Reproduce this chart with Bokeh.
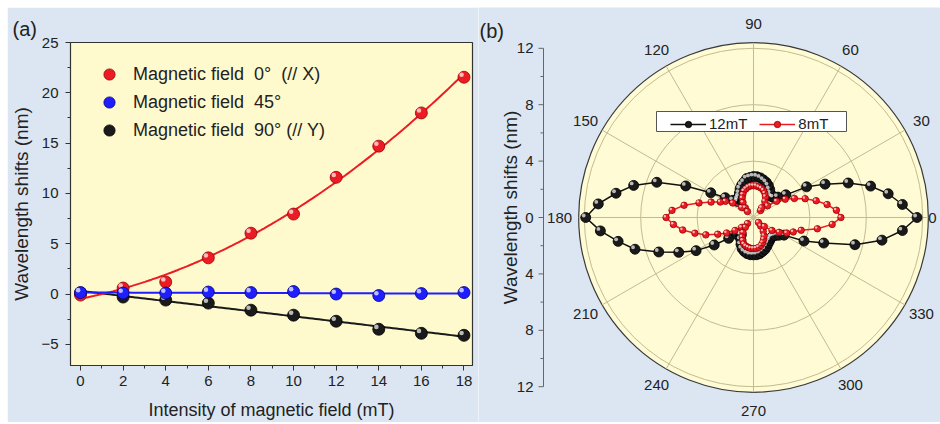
import numpy as np
from bokeh.plotting import figure
from bokeh.layouts import row
from bokeh.models import Range1d, FixedTicker, Legend, LegendItem
from bokeh.core.properties import value
from bokeh.embed import file_html
from bokeh.resources import INLINE

# ---------------- data: panel (a) ----------------
field_mT = [0, 2, 4, 6, 8, 10, 12, 14, 16, 18]
shift_0deg = [-0.1, 0.6, 1.2, 3.6, 6.05, 7.95, 11.6, 14.7, 18.0, 21.55]
shift_45deg = [0.15, 0.1, 0.1, 0.2, 0.15, 0.25, 0.0, -0.15, 0.05, 0.15]
shift_90deg = [0.1, -0.3, -0.6, -0.9, -1.6, -2.1, -2.7, -3.5, -3.9, -4.1]
x_ticks_a = [0, 2, 4, 6, 8, 10, 12, 14, 16, 18]
x_minor_a = [1, 3, 5, 7, 9, 11, 13, 15, 17]
y_ticks_a = [-5, 0, 5, 10, 15, 20, 25]
y_minor_a = [-7.5, -2.5, 2.5, 7.5, 12.5, 17.5, 22.5]
labels_a = ["Magnetic field\u00a0 0\u00b0\u00a0 (// X)",
            "Magnetic field\u00a0 45\u00b0",
            "Magnetic field\u00a0 90\u00b0 (// Y)"]

# ---------------- data: panel (b) polar ----------------
angle_deg = list(range(0, 360, 5))
shift_12mT = [11.6, 10.6, 9.7, 8.6, 7.15, 5.6, 4.35, 2.8, 2.25, 2.0, 1.95, 2.1, 2.3, 2.5, 2.65, 2.75, 2.85, 2.9,
              2.9, 2.85, 2.8, 2.6, 2.45, 2.25, 2.0, 1.8, 1.7, 1.6, 1.9, 2.45, 3.5, 5.3, 7.3, 8.8, 9.9, 11.05,
              11.9, 10.9, 9.75, 8.7, 7.15, 5.85, 4.7, 3.4, 2.3, 1.7, 1.5, 1.5, 1.8, 2.1, 2.35, 2.5, 2.6, 2.65,
              2.65, 2.65, 2.6, 2.5, 2.4, 2.25, 2.1, 2.0, 1.9, 1.9, 2.0, 2.2, 2.5, 3.95, 5.3, 7.45, 9.25, 10.6]
shift_8mT = [6.2, 5.9, 5.3, 4.6, 3.9, 3.2, 2.6, 2.0, 1.3, 0.7, 0.9, 1.4, 1.7, 1.9, 2.05, 2.15, 2.2, 2.25,
             2.25, 2.25, 2.2, 2.1, 2.0, 1.8, 1.6, 1.3, 0.9, 0.6, 1.1, 1.8, 2.3, 2.6, 3.2, 4.0, 5.0, 5.8,
             6.2, 5.7, 5.1, 4.3, 3.6, 2.8, 2.2, 1.6, 1.1, 0.6, 0.9, 1.3, 1.6, 1.8, 2.0, 2.1, 2.15, 2.2,
             2.2, 2.2, 2.15, 2.05, 1.9, 1.7, 1.5, 1.2, 0.8, 0.5, 1.0, 1.6, 2.1, 2.6, 3.0, 3.5, 4.6, 5.6]
radial_ticks = [-12, -8, -4, 0, 4, 8, 12]
radial_minor = [-10, -6, -2, 2, 6, 10]
radial_tick_labels = ["12", "8", "4", "0", "4", "8", "12"]
grid_radii = [4, 8, 12]
spoke_angles = [0, 30, 60, 90, 120, 150, 180, 210, 240, 270, 300, 330]
angle_labels = ["0", "30", "60", "90", "120", "150", "180", "210", "240", "270", "300", "330"]
series_b = ["12mT", "8mT"]

FONT = "Liberation Sans"
BG = "#dce6f3"
YEL = "#fffacd"
GRIDC = "#c4bb90"
TXT = "#222222"
RED, RED_E = "#ec1c24", "#9a0000"
BLUE, BLUE_E = "#1e1eff", "#00007a"
BLK, BLK_E = "#1a1a1a", "#000000"

OX, OY = 7, 7          # page offset of the figures


def balls(p, x, y, color, edge, size, sx, sy):
    r = p.scatter(x, y, size=size, fill_color=color, line_color=edge, line_width=0.8)
    hx = [v - 0.2 * size / sx for v in x]
    hy = [v + 0.2 * size / sy for v in y]
    p.scatter(hx, hy, size=size * 0.38, fill_color="white", fill_alpha=0.7, line_color=None)
    return r


def style_axis(ax):
    ax.axis_line_color = "#333333"
    ax.major_tick_line_color = "#333333"
    ax.minor_tick_line_color = "#333333"
    ax.major_tick_out = 5
    ax.major_tick_in = 0
    ax.minor_tick_out = 3
    ax.minor_tick_in = 0
    ax.major_label_text_font = FONT
    ax.major_label_text_font_size = "15px"
    ax.major_label_text_color = TXT
    ax.axis_label_text_font = FONT
    ax.axis_label_text_font_style = "normal"
    ax.axis_label_text_color = TXT


# ---------------- panel (a) ----------------
xr_a = (-0.47, 18.4)
yr_a = (-7.1, 25)
W_A, H_A = 471, 415
BL_A, BR_A, BT_A, BB_A = 63, 6, 35, 57
pa = figure(width=W_A, height=H_A, output_backend="svg", toolbar_location=None,
            x_range=Range1d(*xr_a), y_range=Range1d(*yr_a), title="(a)",
            min_border_left=BL_A, min_border_right=BR_A, min_border_top=BT_A, min_border_bottom=BB_A,
            background_fill_color=YEL, border_fill_color=BG, frame_align=False,
            outline_line_color="#333333", outline_line_width=1.2, margin=(OY, 0, 0, OX))
pa.grid.visible = False
pa.title.align = "left"
pa.title.offset = -58
pa.title.standoff = 6
pa.title.text_font = FONT
pa.title.text_font_size = "20px"
pa.title.text_font_style = "normal"
pa.title.text_color = TXT
sx_a = (W_A - BL_A - BR_A) / (xr_a[1] - xr_a[0])
sy_a = (H_A - BT_A - BB_A) / (yr_a[1] - yr_a[0])

pa.xaxis.ticker = FixedTicker(ticks=x_ticks_a, minor_ticks=x_minor_a)
pa.yaxis.ticker = FixedTicker(ticks=y_ticks_a, minor_ticks=y_minor_a)
style_axis(pa.xaxis[0])
style_axis(pa.yaxis[0])
pa.xaxis.axis_label = "Intensity of magnetic field (mT)"
pa.yaxis.axis_label = "Wavelength shifts (nm)"
pa.xaxis.axis_label_text_font_size = "18px"
pa.yaxis.axis_label_text_font_size = "19px"
pa.xaxis.major_label_standoff = 5
pa.yaxis.major_label_standoff = 7
pa.xaxis.axis_label_standoff = 11
pa.yaxis.axis_label_standoff = 6

xs_fit = np.linspace(0, 18, 120)
fit0 = np.polyval(np.polyfit(field_mT, shift_0deg, 2), xs_fit)
fit45 = np.polyval(np.polyfit(field_mT, shift_45deg, 1), xs_fit)
fit90 = np.polyval(np.polyfit(field_mT, shift_90deg, 1), xs_fit)

pa.line(xs_fit, fit90, line_color=BLK, line_width=2)
r90 = balls(pa, field_mT, shift_90deg, BLK, BLK_E, 12, sx_a, sy_a)
pa.line(xs_fit, fit0, line_color=RED, line_width=2)
r0 = balls(pa, field_mT, shift_0deg, RED, RED_E, 12, sx_a, sy_a)
pa.line(xs_fit, fit45, line_color=BLUE, line_width=2)
r45 = balls(pa, field_mT, shift_45deg, BLUE, BLUE_E, 12, sx_a, sy_a)

leg_a = Legend(items=[LegendItem(label=labels_a[0], renderers=[r0]),
                      LegendItem(label=labels_a[1], renderers=[r45]),
                      LegendItem(label=labels_a[2], renderers=[r90])],
               location="top_left", margin=18, padding=4, spacing=0,
               glyph_width=42, glyph_height=28, label_height=28, label_standoff=3,
               label_text_font=FONT, label_text_font_size="18px", label_text_color=TXT,
               background_fill_alpha=0, border_line_color=None)
pa.add_layout(leg_a)

# ---------------- panel (b) polar ----------------
W_B, H_B = 462, 415
LEFT_B = OX + W_A              # page x of panel (b) canvas
S = 14.1                       # px per unit
CX, CY = 753, 217              # page position of the polar centre
cx_px, cy_px = CX - LEFT_B, CY - OY
xr_b = (-cx_px / S, (W_B - cx_px) / S)
yr_b = (-(H_B - cy_px) / S, cy_px / S)
pb = figure(width=W_B, height=H_B, output_backend="svg", toolbar_location=None,
            x_range=Range1d(*xr_b), y_range=Range1d(*yr_b),
            x_axis_location=None, y_axis_location=None, frame_align=False,
            min_border_left=0, min_border_right=0, min_border_top=0, min_border_bottom=0,
            background_fill_color=BG, border_fill_color=BG, outline_line_color=None,
            margin=(OY, 0, 0, 0))
pb.grid.visible = False


def px_x(px):
    return (px - CX) / S


def px_y(py):
    return (CY - py) / S


# radial axis (drawn on the left, like the original)
AX = px_x(543)
pb.segment(x0=[AX], y0=[radial_ticks[0]], x1=[AX], y1=[radial_ticks[-1]], line_color="#666666", line_width=1)
pb.segment(x0=[AX - 5 / S] * len(radial_ticks), y0=radial_ticks, x1=[AX] * len(radial_ticks), y1=radial_ticks,
           line_color="#666666", line_width=1)
pb.segment(x0=[AX - 3 / S] * len(radial_minor), y0=radial_minor, x1=[AX] * len(radial_minor), y1=radial_minor,
           line_color="#666666", line_width=1)
pb.text(x=[AX - 10 / S] * len(radial_ticks), y=radial_ticks, text=radial_tick_labels,
        text_font=value(FONT), text_font_size="15px", text_color=TXT,
        text_align="right", text_baseline="middle")
pb.text(x=[px_x(510)], y=[px_y(207)], text=["Wavelength shifts (nm)"], angle=np.pi / 2,
        text_font=value(FONT), text_font_size="19px", text_color=TXT,
        text_align="center", text_baseline="middle")
pb.text(x=[px_x(LEFT_B + 1)], y=[px_y(19)], text=["(b)"],
        text_font=value(FONT), text_font_size="20px", text_color=TXT,
        text_align="left", text_baseline="top")

R_OUT = 12.4
pb.circle(x=[0], y=[0], radius=R_OUT, fill_color="#fffbd4", line_color="#3a3a3a", line_width=1.2)
pb.circle(x=[0] * len(grid_radii), y=[0] * len(grid_radii), radius=grid_radii,
          fill_color=None, line_color=GRIDC, line_width=1)
th = np.deg2rad(spoke_angles)
pb.multi_line(xs=[[0, R_OUT * np.cos(t)] for t in th], ys=[[0, R_OUT * np.sin(t)] for t in th],
              line_color=GRIDC, line_width=1)
R_LAB = 13.75
lab_x = np.minimum(R_LAB * np.cos(th), px_x(932))
pb.text(x=lab_x, y=R_LAB * np.sin(th), text=angle_labels,
        text_font=value(FONT), text_font_size="15px", text_color=TXT,
        text_align="center", text_baseline="middle")

# legend box
pb.quad(left=px_x(656), right=px_x(846), top=px_y(111), bottom=px_y(131),
        fill_color="white", line_color="#555555", line_width=1)


def polar_xy(ang, rad):
    a = np.deg2rad(np.array(ang + [ang[0]], dtype=float))
    r = np.array(rad + [rad[0]], dtype=float)
    return r * np.cos(a), r * np.sin(a)


bx, by = polar_xy(angle_deg, shift_12mT)
rx, ry = polar_xy(angle_deg, shift_8mT)
l12 = pb.line(bx, by, line_color="#111111", line_width=1.5)
b12 = balls(pb, list(bx[:-1]), list(by[:-1]), BLK, BLK_E, 10, S, S)
l8 = pb.line(rx, ry, line_color=RED, line_width=1.5)
b8 = balls(pb, list(rx[:-1]), list(ry[:-1]), RED, RED_E, 6.5, S, S)

leg_b = Legend(items=[LegendItem(label=series_b[0], renderers=[l12, b12]),
                      LegendItem(label=series_b[1], renderers=[l8, b8])],
               location=(670 - LEFT_B, OY + H_B - 132), orientation="horizontal",
               padding=2, spacing=12, margin=0,
               glyph_width=36, glyph_height=16, label_height=16, label_standoff=3,
               label_text_font=FONT, label_text_font_size="15px", label_text_color=TXT,
               background_fill_alpha=0, border_line_color=None)
pb.add_layout(leg_b)

layout = row(pa, pb)
open("out.html", "w").write(file_html(layout, INLINE))
